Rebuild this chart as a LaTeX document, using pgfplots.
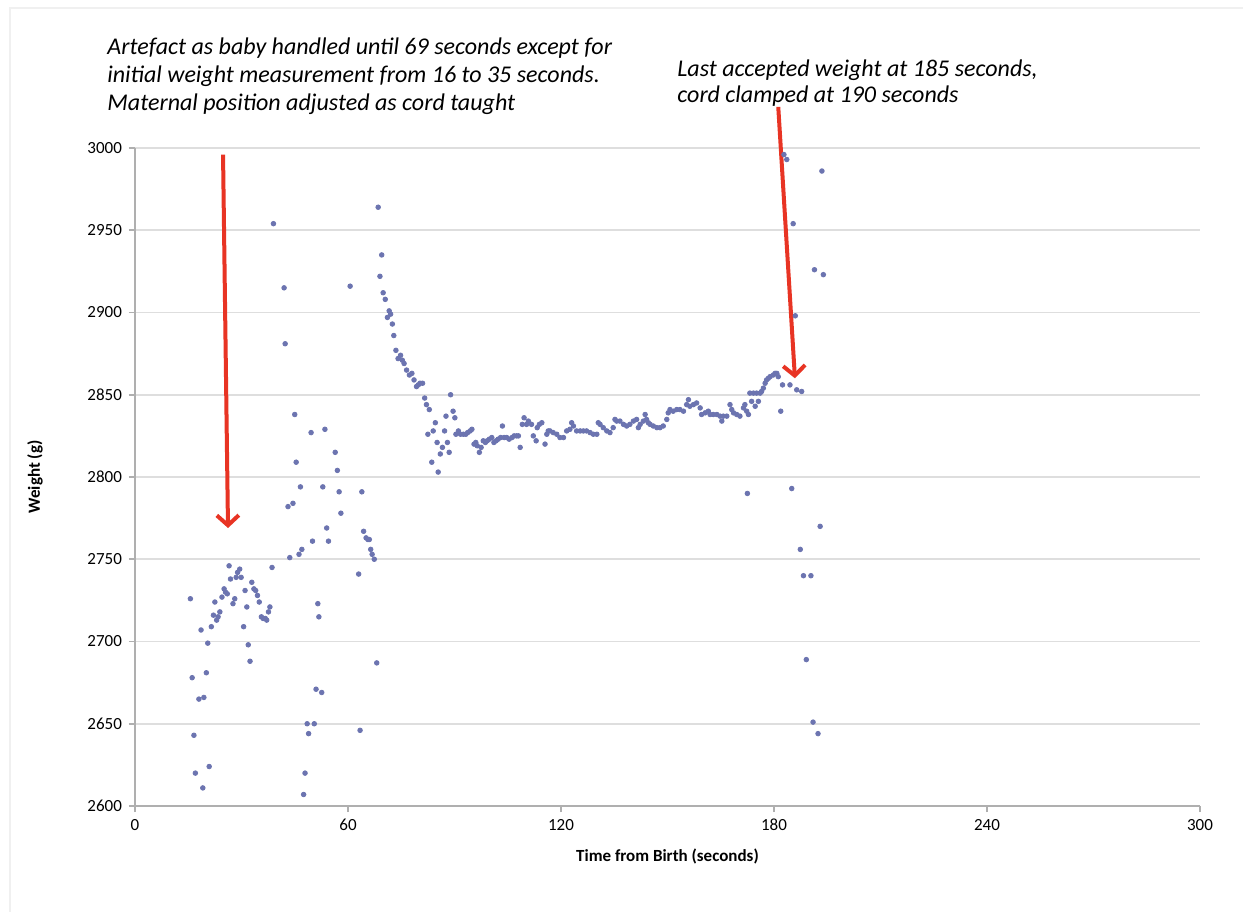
\documentclass[border=0pt]{standalone}
\usepackage{pgfplots}
\pgfplotsset{compat=1.18}
\usepackage{pgfplotstable}
\usepackage{fontspec}
\setmainfont{Carlito}
\usetikzlibrary{arrows.meta}
\definecolor{dotc}{RGB}{108,116,176}
\definecolor{arrc}{RGB}{232,52,36}
\definecolor{gridc}{RGB}{222,222,222}
\definecolor{axc}{RGB}{175,175,175}
\pgfplotstableread{
t w
15.6 2726
16.1 2678
16.6 2643
17.0 2620
18.0 2665
18.6 2707
19.1 2611
19.4 2666
20.1 2681
20.5 2699
20.9 2624
21.5 2709
22.1 2716
22.5 2724
23.0 2713
23.4 2715
23.9 2718
24.5 2727
25.1 2732
25.5 2730
26.0 2729
26.5 2746
26.9 2738
27.6 2723
28.1 2726
28.5 2739
28.9 2742
29.5 2744
29.9 2739
30.6 2709
31.0 2731
31.5 2721
31.9 2698
32.4 2688
32.9 2736
33.5 2732
34.0 2731
34.5 2728
35.0 2724
35.6 2715
36.1 2714
36.7 2714
37.1 2713
37.6 2718
38.0 2721
38.6 2745
39.0 2954
42.0 2915
42.3 2881
43.1 2782
43.6 2751
44.5 2784
45.0 2838
45.4 2809
46.2 2753
46.6 2794
47.0 2756
47.5 2607
47.9 2620
48.5 2650
48.9 2644
49.6 2827
50.0 2761
50.5 2650
51.0 2671
51.5 2723
51.8 2715
52.6 2669
52.9 2794
53.5 2829
54.0 2769
54.5 2761
56.4 2815
57.0 2804
57.5 2791
58.0 2778
60.6 2916
63.0 2741
63.4 2646
63.9 2791
64.4 2767
65.1 2763
65.6 2762
66.0 2762
66.4 2756
66.8 2753
67.4 2750
68.1 2687
68.5 2964
69.0 2922
69.5 2935
69.9 2912
70.5 2908
71.1 2897
71.6 2901
72.0 2899
72.5 2893
72.9 2886
73.5 2877
74.1 2872
74.8 2874
75.3 2871
75.8 2869
76.5 2865
77.3 2862
78.0 2863
78.6 2859
79.3 2855
79.8 2856
80.3 2857
81.0 2857
81.6 2848
82.1 2844
82.5 2826
82.9 2841
83.6 2809
84.0 2828
84.6 2833
85.1 2821
85.4 2803
86.0 2814
86.6 2818
87.2 2828
87.6 2837
88.0 2821
88.5 2815
88.9 2850
89.6 2840
90.1 2836
90.4 2826
91.1 2828
91.7 2826
92.5 2826
93.2 2826
93.7 2827
94.4 2828
94.9 2829
95.5 2820
96.0 2821
96.4 2819
97.0 2815
97.5 2818
98.1 2822
98.7 2821
99.2 2822
99.8 2823
100.5 2824
101.1 2821
101.7 2822
102.3 2823
103.0 2824
103.5 2831
104.0 2824
104.7 2824
105.4 2823
106.2 2824
106.8 2825
107.5 2825
108.0 2825
108.5 2818
109.1 2832
109.6 2836
110.3 2832
110.8 2834
111.7 2832
112.2 2825
113.0 2822
113.3 2830
113.9 2832
114.6 2833
115.5 2820
116.0 2826
116.4 2828
116.9 2828
117.8 2827
118.8 2826
119.7 2824
120.7 2824
121.6 2828
122.5 2829
123.0 2833
123.5 2831
124.4 2828
125.4 2828
126.3 2828
127.2 2828
128.2 2827
129.1 2826
130.1 2826
130.5 2833
131.0 2832
131.9 2830
132.9 2828
133.8 2827
134.7 2830
135.2 2835
135.7 2834
136.6 2834
137.6 2832
138.5 2831
139.4 2832
140.4 2834
141.3 2835
141.8 2830
142.3 2832
143.2 2834
143.7 2838
144.1 2835
144.6 2833
145.1 2832
146.0 2831
147.0 2830
147.9 2830
148.8 2831
149.8 2835
150.2 2839
150.7 2841
151.6 2840
152.6 2841
153.5 2841
154.5 2840
155.4 2844
155.9 2847
156.3 2843
157.3 2844
158.2 2845
159.2 2842
159.6 2838
160.6 2839
161.5 2840
162.0 2838
162.9 2838
163.9 2838
164.8 2837
165.3 2834
165.7 2837
166.7 2837
167.6 2844
168.1 2841
168.6 2839
169.5 2838
170.4 2837
171.4 2842
171.8 2844
172.3 2840
172.5 2790
172.8 2838
173.2 2851
173.7 2846
174.2 2851
174.7 2843
175.1 2851
175.6 2846
176.1 2851
176.5 2852
177.0 2854
177.5 2857
177.9 2859
178.4 2860
178.9 2861
179.8 2862
180.3 2863
180.8 2863
181.2 2861
181.9 2840
182.4 2856
182.8 2996
183.6 2993
184.5 2856
185.0 2793
185.4 2954
186.0 2898
186.4 2853
187.4 2756
187.8 2852
188.3 2740
189.1 2689
190.4 2740
191.0 2651
191.4 2926
192.4 2644
193.0 2770
193.5 2986
193.9 2923
}\weightdata
\begin{document}
\begin{tikzpicture}
\useasboundingbox (0,0) rectangle (621.5pt,456pt);
\fill[white] (0,0) rectangle (621.5pt,456pt);
\draw[gray!12, line width=0.8pt] (5pt,0) -- (5pt,452pt) -- (621.5pt,452pt);
\node[anchor=north west, inner sep=0pt, align=left, font=\fontsize{12}{14.2}\selectfont\itshape] at (53.5pt,437.5pt)
 {Artefact as baby handled until 69 seconds except for\\initial weight measurement from 16 to 35 seconds.\\Maternal position adjusted as cord taught};
\node[anchor=north west, inner sep=0pt, align=left, font=\fontsize{12}{13}\selectfont\itshape] at (338.5pt,426.5pt)
 {Last accepted weight at 185 seconds,\\cord clamped at 190 seconds};
\begin{axis}[
  at={(67.5pt,53pt)}, anchor=south west,
  scale only axis, width=532.5pt, height=329pt,
  xmin=0, xmax=300, ymin=2600, ymax=3000,
  xtick={0,60,...,300}, ytick={2600,2650,...,3000},
  axis x line*=bottom, axis y line*=left,
  axis line style={-, draw=axc, line width=0.8pt},
  ymajorgrids, major grid style={draw=gridc, line width=0.8pt},
  tick align=outside, major tick length=3pt,
  tick style={draw=axc, line width=0.8pt},
  ticklabel style={font=\fontsize{8.5}{10}\selectfont},
  /pgf/number format/assume math mode=true,
  /pgf/number format/1000 sep={},
  xlabel={Time from Birth (seconds)}, ylabel={Weight (g)},
  label style={font=\fontsize{8.5}{10}\selectfont\bfseries},
  xlabel style={at={(axis description cs:0.5,-0.076)}, anchor=center},
  ylabel style={at={(axis description cs:-0.094,0.5)}, anchor=center},
  clip=false,
]
\addplot[only marks, mark=*, mark size=1.15pt, color=dotc] table[x=t, y=w] {\weightdata};
\draw[arrc, line width=2pt, -{Straight Barb[length=5pt,width=11pt]}] (axis cs:24.8,2996) -- (axis cs:26.2,2769);
\draw[arrc, line width=2pt, -{Straight Barb[length=5pt,width=11pt]}] (axis cs:181.2,3025) -- (axis cs:185.9,2860);
\end{axis}
\end{tikzpicture}
\end{document}
